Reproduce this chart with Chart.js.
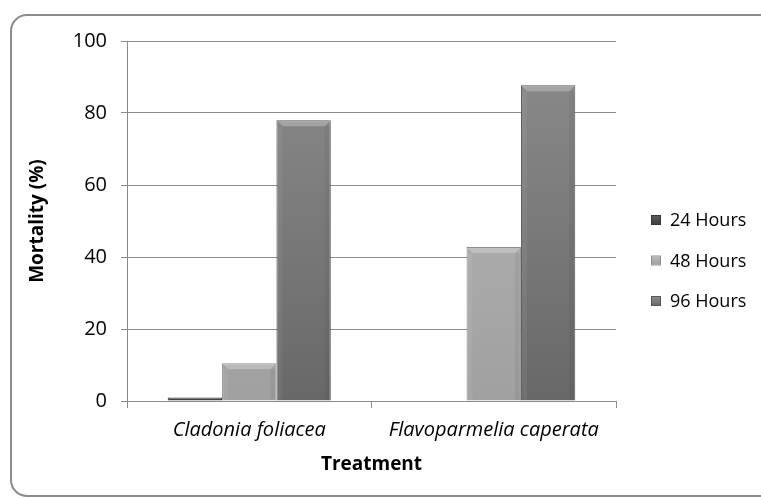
<!DOCTYPE html>
<html>
<head>
<meta charset="utf-8">
<script src="https://cdn.jsdelivr.net/npm/chart.js@4"></script>
<style>
html,body{margin:0;padding:0;background:#fff;}
#wrap{width:761px;height:498px;position:relative;}
</style>
</head>
<body>
<div id="wrap"><canvas id="c" width="761" height="498"></canvas></div>
<script>
const categories = ["Cladonia foliacea", "Flavoparmelia caperata"];
const seriesNames = ["24 Hours", "48 Hours", "96 Hours"];
const hours24 = [1, 0];
const hours48 = [10.5, 42.8];
const hours96 = [78, 87.7];
const yTicks = [0, 20, 40, 60, 80, 100];

const palette = [
  {top: "#5a5a5a", bottom: "#404040", border: "#353535", legend: "#4a4a4a"},
  {top: "#b8b8b8", bottom: "#a0a0a0", border: "#8e8e8e", legend: "#aaaaaa"},
  {top: "#8c8c8c", bottom: "#686868", border: "#555555", legend: "#787878"}
];

function grad(i) {
  return function(ctx) {
    const chart = ctx.chart;
    const area = chart.chartArea;
    if (!area) return palette[i].legend;
    const g = chart.ctx.createLinearGradient(0, area.top, 0, area.bottom);
    g.addColorStop(0, palette[i].top);
    g.addColorStop(1, palette[i].bottom);
    return g;
  };
}

const frame = {
  id: "frame",
  beforeDraw(chart) {
    const c = chart.ctx;
    c.save();
    c.fillStyle = "#fff";
    c.fillRect(0, 0, chart.width, chart.height);
    c.strokeStyle = "#8c8c8c";
    c.lineWidth = 2;
    const x = 11, y = 15, w = 770, h = 481, r = 16;
    c.beginPath();
    c.moveTo(x + r, y);
    c.lineTo(x + w - r, y);
    c.arcTo(x + w, y, x + w, y + r, r);
    c.lineTo(x + w, y + h - r);
    c.arcTo(x + w, y + h, x + w - r, y + h, r);
    c.lineTo(x + r, y + h);
    c.arcTo(x, y + h, x, y + h - r, r);
    c.lineTo(x, y + r);
    c.arcTo(x, y, x + r, y, r);
    c.closePath();
    c.stroke();
    c.restore();
  }
};

const bevel = {
  id: "bevel",
  afterDatasetsDraw(chart) {
    const c = chart.ctx;
    chart.data.datasets.forEach((ds, di) => {
      const meta = chart.getDatasetMeta(di);
      meta.data.forEach((bar) => {
        const p = bar.getProps(["x", "y", "base", "width"], true);
        const h = p.base - p.y;
        if (h < 3) return;
        const l = p.x - p.width / 2, rr = p.x + p.width / 2;
        const d = Math.min(6, h / 2);
        c.save();
        c.fillStyle = "rgba(255,255,255,0.25)";
        c.beginPath();
        c.moveTo(l + 1, p.y + 1);
        c.lineTo(rr - 1, p.y + 1);
        c.lineTo(rr - d, p.y + d);
        c.lineTo(l + d, p.y + d);
        c.closePath();
        c.fill();
        c.fillStyle = "rgba(255,255,255,0.06)";
        c.fillRect(l + 1, p.y + d, d - 1, h - d - 1);
        c.fillStyle = "rgba(0,0,0,0.05)";
        c.fillRect(rr - d, p.y + d, d - 1, h - d - 1);
        c.restore();
      });
    });
  }
};

const legendBox = {
  id: "legendBox",
  afterDraw(chart) {
    const c = chart.ctx;
    c.save();
    c.font = "18px 'Open Sans'";
    c.textBaseline = "middle";
    c.fillStyle = "#000";
    chart.data.datasets.forEach((ds, i) => {
      const cy = 220 + i * 40.5;
      const g = c.createLinearGradient(0, cy - 4, 0, cy + 4);
      g.addColorStop(0, palette[i].top);
      g.addColorStop(1, palette[i].bottom);
      c.fillStyle = g;
      c.fillRect(652, cy - 4, 8, 8);
      c.strokeStyle = palette[i].border;
      c.lineWidth = 1;
      c.strokeRect(651.5, cy - 4.5, 9, 9);
      c.fillStyle = "#000";
      c.fillText(ds.label, 670, cy + 1);
    });
    c.restore();
  }
};

const seriesData = [hours24, hours48, hours96];
new Chart(document.getElementById("c"), {
  type: "bar",
  data: {
    labels: categories,
    datasets: seriesNames.map((n, i) => ({
      label: n,
      data: seriesData[i],
      backgroundColor: grad(i),
      borderColor: palette[i].border,
      borderWidth: 1,
      categoryPercentage: 0.667,
      barPercentage: 1.0
    }))
  },
  options: {
    responsive: false,
    animation: false,
    devicePixelRatio: 1,
    layout: {padding: {left: 20, right: 145, top: 41, bottom: 20}},
    plugins: {
      legend: {display: false},
      tooltip: {enabled: false}
    },
    scales: {
      x: {
        offset: true,
        afterFit(scale) { scale.height = 498 - 401 - 20; },
        grid: {display: true, drawOnChartArea: false, offset: true, tickLength: 7, color: "#8c8c8c"},
        border: {color: "#8c8c8c", width: 1},
        ticks: {color: "#000", font: {family: "Open Sans", size: 20, style: "italic"}, padding: 10},
        title: {display: true, text: "Treatment", color: "#000", font: {family: "Open Sans", size: 19, weight: "bold"}, padding: {top: 0, bottom: 2}}
      },
      y: {
        min: 0,
        max: 100,
        afterFit(scale) { scale.width = 127 - 20; },
        afterBuildTicks(scale) { scale.ticks = yTicks.map(v => ({value: v})); },
        grid: {color: "#8c8c8c", tickLength: 6},
        border: {color: "#8c8c8c", width: 1},
        ticks: {color: "#000", font: {family: "Open Sans", size: 20}, padding: 14},
        title: {display: true, text: "Mortality (%)", color: "#000", font: {family: "Open Sans", size: 19, weight: "bold"}, padding: {top: 6, bottom: 0}}
      }
    }
  },
  plugins: [frame, bevel, legendBox]
});
</script>
</body>
</html>
